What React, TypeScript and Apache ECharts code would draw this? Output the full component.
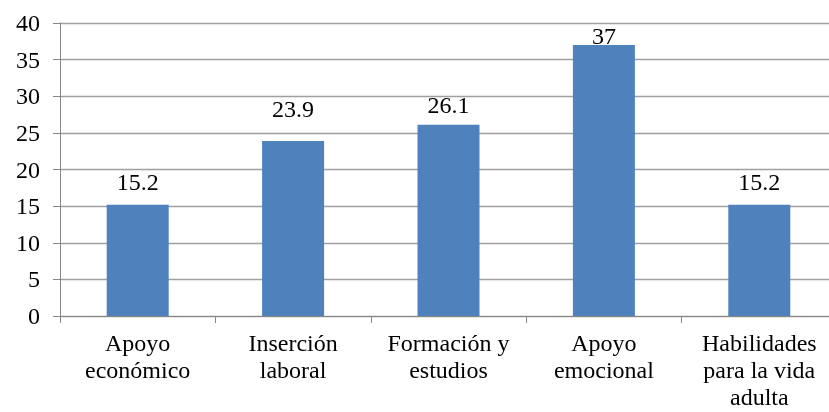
import React, { useEffect, useRef } from "react";
import * as echarts from "echarts";

const categories = [
  "Apoyo\neconómico",
  "Inserción\nlaboral",
  "Formación y\nestudios",
  "Apoyo\nemocional",
  "Habilidades\npara la vida\nadulta",
];
const values = [15.2, 23.9, 26.1, 37, 15.2];
const yTicks = { min: 0, max: 40, interval: 5 };

// label gaps (style only)
const labelDistances = [10.5, 19.5, 7.5, -3.5, 10.5];

const FONT = "Liberation Serif";

export default function App() {
  const ref = useRef<HTMLDivElement>(null);
  useEffect(() => {
    document.body.style.margin = "0";
    const chart = echarts.init(ref.current!, undefined, { renderer: "svg" });
    chart.setOption({
      animation: false,
      grid: { left: 60, top: 23, width: 777, height: 293, outerBoundsMode: "none" },
      xAxis: {
        type: "category",
        data: categories,
        axisLine: { show: true, lineStyle: { color: "#868686", width: 1 } },
        axisTick: { show: true, length: 7, lineStyle: { color: "#868686" } },
        axisLabel: {
          interval: 0,
          color: "#000000",
          fontFamily: FONT,
          fontSize: 24,
          lineHeight: 27,
          margin: 13,
        },
      },
      yAxis: {
        type: "value",
        min: yTicks.min,
        max: yTicks.max,
        interval: yTicks.interval,
        axisLine: { show: true, lineStyle: { color: "#868686", width: 1 } },
        axisTick: { show: true, length: 7, lineStyle: { color: "#868686" } },
        splitLine: { show: true, lineStyle: { color: "#a0a0a0", width: 1.3 } },
        axisLabel: { color: "#000000", fontFamily: FONT, fontSize: 24, margin: 20 },
      },
      series: [
        {
          type: "bar",
          barWidth: 62,
          data: values.map((v, i) => ({ value: v, label: { distance: labelDistances[i] } })),
          itemStyle: { color: "#4F81BD" },
          label: { show: true, position: "top", color: "#000000", fontFamily: FONT, fontSize: 24 },
        },
      ],
    });
    return () => chart.dispose();
  }, []);
  return <div ref={ref} style={{ position: "fixed", left: 0, top: 0, width: 829, height: 412 }} />;
}
